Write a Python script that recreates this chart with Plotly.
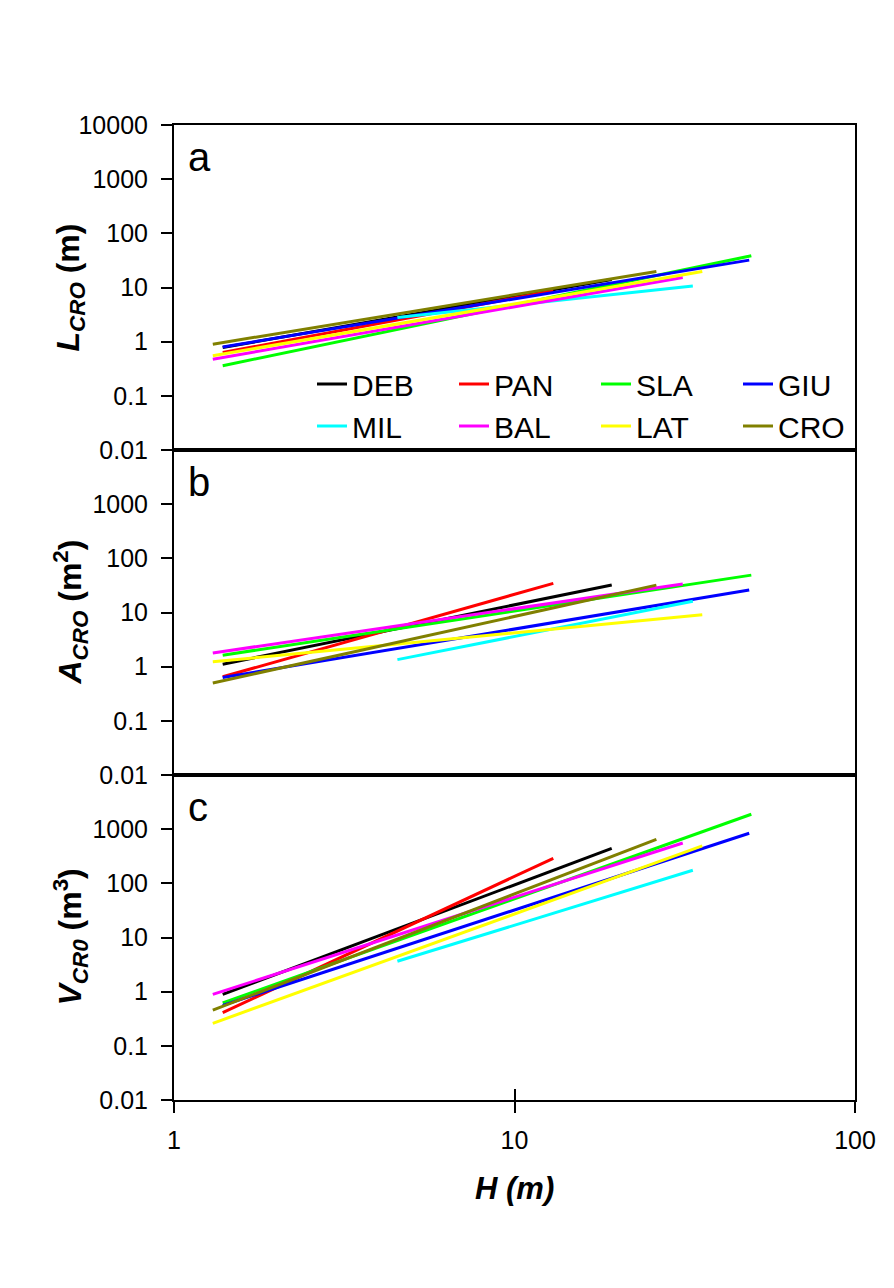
import plotly.graph_objects as go

# ---- data ----
sites = ["DEB", "PAN", "SLA", "GIU", "MIL", "BAL", "LAT", "CRO"]
colors = ["#000000", "#FF0000", "#00FF00", "#0000FF", "#00FFFF", "#FF00FF", "#FFFF00", "#808000"]

# H range (m) covered by each fitted line
h_start = [1.39, 1.39, 1.39, 1.39, 4.53, 1.30, 1.30, 1.30]
h_end = [19.3, 13.0, 49.6, 48.9, 33.4, 31.2, 35.6, 26.1]

# panel a: L_CRO (m)
l_start = [0.78, 0.63, 0.36, 0.80, 2.79, 0.475, 0.55, 0.90]
l_end = [14.0, 8.7, 38.5, 32.0, 10.7, 15.3, 19.7, 19.7]

# panel b: A_CRO (m2)
a_start = [1.11, 0.65, 1.63, 0.63, 1.35, 1.79, 1.23, 0.50]
a_end = [32.2, 34.5, 49.0, 26.0, 16.1, 33.6, 9.06, 32.0]

# panel c: V_CR0 (m3)
v_start = [0.89, 0.41, 0.62, 0.56, 3.64, 0.89, 0.26, 0.456]
v_end = [443, 290, 1884, 840, 174, 556, 490, 650]

y_ticks_a = [0.01, 0.1, 1, 10, 100, 1000, 10000]
y_ticks_bc = [0.01, 0.1, 1, 10, 100, 1000]
x_ticks = [1, 10, 100]

FONT = "Liberation Sans, Arial, sans-serif"

fig = go.Figure()

panels = [("x", "y", l_start, l_end), ("x2", "y2", a_start, a_end), ("x3", "y3", v_start, v_end)]
for p, (xa, ya, ys, ye) in enumerate(panels):
    for i, s in enumerate(sites):
        fig.add_trace(go.Scatter(
            x=[h_start[i], h_end[i]], y=[ys[i], ye[i]],
            mode="lines", line=dict(color=colors[i], width=3),
            name=s, legendgroup=s, showlegend=(p == 0),
            xaxis=xa, yaxis=ya, hoverinfo="skip"))

def yax(domain, ticks, anchor):
    return dict(type="log", range=[-2, 4], domain=domain, anchor=anchor,
                showline=True, linecolor="black", linewidth=2, mirror=True,
                ticks="outside", ticklen=11, tickwidth=2, tickcolor="black",
                tickvals=ticks, ticktext=[("%g" % t) for t in ticks],
                ticklabelstandoff=8,
                tickfont=dict(family=FONT, size=25, color="black"),
                showgrid=False, zeroline=False)

def xax(anchor, labels):
    d = dict(type="log", range=[0, 2], domain=[0, 1], anchor=anchor,
             showline=True, linecolor="black", linewidth=2, mirror=True,
             showgrid=False, zeroline=False)
    if labels:
        d.update(ticks="outside", ticklen=11, tickwidth=2, tickcolor="black",
                 tickvals=x_ticks, ticktext=[str(t) for t in x_ticks],
                 ticklabelstandoff=6,
                 tickfont=dict(family=FONT, size=25, color="black"))
    else:
        d.update(showticklabels=False, ticks="")
    return d

h = 1 / 3
fig.update_layout(
    width=894, height=1288,
    margin=dict(l=174, r=39, t=125, b=188),
    paper_bgcolor="white", plot_bgcolor="white",
    font=dict(family=FONT, color="black"),
    xaxis=xax("y", False),
    xaxis2=xax("y2", False),
    xaxis3=xax("y3", True),
    xaxis4=dict(type="log", range=[0, 2], overlaying="x3", anchor="y3", side="bottom",
                ticks="inside", ticklen=11, tickwidth=2, tickcolor="black",
                tickvals=x_ticks, showticklabels=False, showline=False,
                showgrid=False, zeroline=False),
    yaxis=yax([2 * h, 1], y_ticks_a, "x"),
    yaxis2=yax([h, 2 * h], y_ticks_bc, "x2"),
    yaxis3=yax([0, h], y_ticks_bc, "x3"),
    showlegend=True,
    legend=dict(orientation="h", x=(312 - 174) / 681, y=(1100 - 358) / 975,
                xanchor="left", yanchor="top",
                entrywidth=97, entrywidthmode="pixels",
                bgcolor="rgba(0,0,0,0)", borderwidth=0,
                font=dict(family=FONT, size=30, color="black"),
                tracegroupgap=0, itemclick=False),
)

# an invisible trace on the overlay axis so it renders
fig.add_trace(go.Scatter(x=[1, 100], y=[1, 1], xaxis="x4", yaxis="y3", mode="lines",
                         line=dict(width=0), showlegend=False, hoverinfo="skip", opacity=0))

ytitles = ["<b><i>L</i><sub><i>CRO</i></sub> (m)</b>",
           "<b><i>A</i><sub><i>CRO</i></sub> (m<sup>2</sup>)</b>",
           "<b><i>V</i><sub><i>CR0</i></sub> (m<sup>3</sup>)</b>"]
ycent = [5 / 6, 0.5, 1 / 6]
for t, yc in zip(ytitles, ycent):
    fig.add_annotation(text=t, xref="paper", yref="paper", x=(70 - 174) / 681, y=yc,
                       xanchor="center", yanchor="middle", textangle=-90, showarrow=False,
                       font=dict(family=FONT, size=32, color="black"))

letters = ["a", "b", "c"]
ltop = [1.0, 2 * h, h]
for t, yt in zip(letters, ltop):
    fig.add_annotation(text=t, xref="paper", yref="paper", x=(186 - 174) / 681, y=yt - 8 / 975,
                       xanchor="left", yanchor="top", showarrow=False,
                       font=dict(family=FONT, size=40, color="black"))

fig.add_annotation(text="<b><i>H (m)</i></b>", xref="paper", yref="paper", x=0.5,
                   y=(1100 - 1188) / 975, xanchor="center", yanchor="middle", showarrow=False,
                   font=dict(family=FONT, size=31, color="black"))

fig.write_html("out.html")
